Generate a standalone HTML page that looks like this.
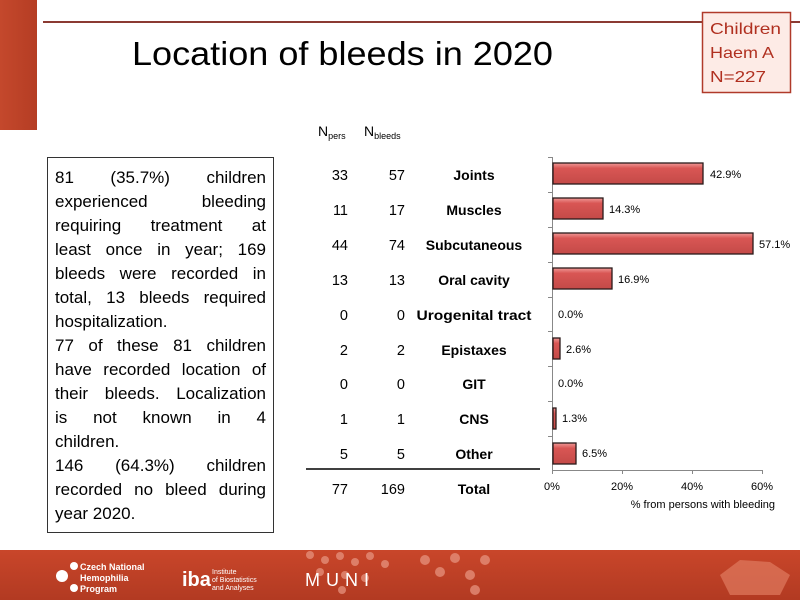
<!DOCTYPE html>
<html><head><meta charset="utf-8"><style>
html,body{margin:0;padding:0;background:#fff;}
svg{display:block;font-family:"Liberation Sans",sans-serif;}
#tb{position:absolute;left:47px;top:157px;width:211px;height:358px;border:1px solid #333;padding:8px 7px 8px 7px;font-family:"Liberation Sans",sans-serif;font-size:17px;line-height:24px;color:#000;background:#fff;}
#tb div{text-align:justify;text-align-last:justify;white-space:nowrap;height:24px;}
#tb div.l{text-align-last:left;}
</style></head><body>
<svg width="800" height="600" viewBox="0 0 800 600" xmlns="http://www.w3.org/2000/svg">
<defs>
<linearGradient id="ft" x1="0" y1="0" x2="0" y2="1"><stop offset="0" stop-color="#c9462a"/><stop offset="1" stop-color="#b23a22"/></linearGradient>
<linearGradient id="bar" x1="0" y1="0" x2="0" y2="1"><stop offset="0" stop-color="#f09a98"/><stop offset="0.25" stop-color="#d95654"/><stop offset="1" stop-color="#c44a48"/></linearGradient>
<linearGradient id="st" x1="0" y1="0" x2="1" y2="0"><stop offset="0" stop-color="#c4482c"/><stop offset="1" stop-color="#b53d24"/></linearGradient>
</defs>
<rect x="0" y="0" width="37" height="130" fill="url(#st)"/>
<line x1="43" y1="22" x2="800" y2="22" stroke="#8b3a32" stroke-width="2"/>
<text x="132" y="65" font-size="33" textLength="421" lengthAdjust="spacingAndGlyphs" fill="#000">Location of bleeds in 2020</text>
<rect x="702.5" y="12.5" width="88" height="80" fill="#fdebe6" stroke="#b03a2a" stroke-width="1.5"/>
<g fill="#b03020" font-size="16">
<text x="710" y="34" textLength="71" lengthAdjust="spacingAndGlyphs">Children</text>
<text x="710" y="58" textLength="64" lengthAdjust="spacingAndGlyphs">Haem A</text>
<text x="710" y="82" textLength="56" lengthAdjust="spacingAndGlyphs">N=227</text>
</g>
<text x="318" y="136" font-size="14">N<tspan font-size="9" dy="3">pers</tspan></text>
<text x="364" y="136" font-size="14">N<tspan font-size="9" dy="3">bleeds</tspan></text>
<g font-size="14.5" fill="#000">
<g text-anchor="end">
<text x="348" y="180">33</text><text x="405" y="180">57</text>
<text x="348" y="215">11</text><text x="405" y="215">17</text>
<text x="348" y="250">44</text><text x="405" y="250">74</text>
<text x="348" y="285">13</text><text x="405" y="285">13</text>
<text x="348" y="320">0</text><text x="405" y="320">0</text>
<text x="348" y="355">2</text><text x="405" y="355">2</text>
<text x="348" y="389">0</text><text x="405" y="389">0</text>
<text x="348" y="424">1</text><text x="405" y="424">1</text>
<text x="348" y="459">5</text><text x="405" y="459">5</text>
<text x="348" y="494">77</text><text x="405" y="494">169</text>
</g>
<g text-anchor="middle" font-weight="bold" font-size="14">
<text x="474" y="180">Joints</text>
<text x="474" y="215">Muscles</text>
<text x="474" y="250">Subcutaneous</text>
<text x="474" y="285">Oral cavity</text>
<text x="474" y="320" textLength="115" lengthAdjust="spacingAndGlyphs">Urogenital tract</text>
<text x="474" y="355">Epistaxes</text>
<text x="474" y="389">GIT</text>
<text x="474" y="424">CNS</text>
<text x="474" y="459">Other</text>
<text x="474" y="494">Total</text>
</g>
</g>
<line x1="306" y1="469" x2="540" y2="469" stroke="#000" stroke-width="1.5"/>
<g stroke="#888" stroke-width="1">
<line x1="552.5" y1="157" x2="552.5" y2="470"/>
<line x1="552" y1="470.5" x2="762" y2="470.5"/>
<line x1="548" y1="157.5" x2="552" y2="157.5"/><line x1="548" y1="192.5" x2="552" y2="192.5"/>
<line x1="548" y1="227.5" x2="552" y2="227.5"/><line x1="548" y1="262.5" x2="552" y2="262.5"/>
<line x1="548" y1="297.5" x2="552" y2="297.5"/><line x1="548" y1="331.5" x2="552" y2="331.5"/>
<line x1="548" y1="366.5" x2="552" y2="366.5"/><line x1="548" y1="401.5" x2="552" y2="401.5"/>
<line x1="548" y1="436.5" x2="552" y2="436.5"/>
<line x1="552.5" y1="470" x2="552.5" y2="474"/><line x1="622.5" y1="470" x2="622.5" y2="474"/>
<line x1="692.5" y1="470" x2="692.5" y2="474"/><line x1="762.5" y1="470" x2="762.5" y2="474"/>
</g>
<g stroke="#2a1a1a" stroke-width="1.3" fill="url(#bar)">
<rect x="553" y="163" width="150" height="21"/>
<rect x="553" y="198" width="50" height="21"/>
<rect x="553" y="233" width="200" height="21"/>
<rect x="553" y="268" width="59" height="21"/>
<rect x="553" y="338" width="7" height="21"/>
<rect x="553" y="408" width="3" height="21"/>
<rect x="553" y="443" width="23" height="21"/>
</g>
<g font-size="11" fill="#000">
<text x="710" y="178">42.9%</text>
<text x="609" y="213">14.3%</text>
<text x="759" y="248">57.1%</text>
<text x="618" y="283">16.9%</text>
<text x="558" y="318">0.0%</text>
<text x="566" y="353">2.6%</text>
<text x="558" y="387">0.0%</text>
<text x="562" y="422">1.3%</text>
<text x="582" y="457">6.5%</text>
<g text-anchor="middle">
<text x="552" y="490">0%</text><text x="622" y="490">20%</text><text x="692" y="490">40%</text><text x="762" y="490">60%</text>
</g>
<text x="775" y="508" text-anchor="end">% from persons with bleeding</text>
</g>
<rect x="0" y="550" width="800" height="50" fill="url(#ft)"/>
<g fill="#e48d78" opacity="0.8">
<circle cx="310" cy="555" r="4"/><circle cx="325" cy="560" r="4"/><circle cx="340" cy="556" r="4"/><circle cx="355" cy="562" r="4"/><circle cx="370" cy="556" r="4"/><circle cx="385" cy="564" r="4"/><circle cx="320" cy="572" r="4"/><circle cx="345" cy="575" r="4"/><circle cx="365" cy="578" r="4"/><circle cx="342" cy="590" r="4"/>
<circle cx="425" cy="560" r="5"/><circle cx="440" cy="572" r="5"/><circle cx="455" cy="558" r="5"/><circle cx="470" cy="575" r="5"/><circle cx="485" cy="560" r="5"/><circle cx="475" cy="590" r="5"/>
</g>
<path d="M720 575 L740 560 L770 562 L790 575 L780 595 L730 595 Z" fill="#e07a60" opacity="0.7"/>
<g fill="#fff">
<circle cx="62" cy="576" r="6"/><circle cx="74" cy="566" r="4"/><circle cx="74" cy="588" r="4"/>
<text x="80" y="570" font-size="9" font-weight="bold">Czech National</text>
<text x="80" y="581" font-size="9" font-weight="bold">Hemophilia</text>
<text x="80" y="592" font-size="9" font-weight="bold">Program</text>
<text x="182" y="586" font-size="20" font-weight="bold">iba</text>
<text x="212" y="574" font-size="7">Institute</text>
<text x="212" y="582" font-size="7">of Biostatistics</text>
<text x="212" y="590" font-size="7">and Analyses</text>
<text x="305" y="586" font-size="18" letter-spacing="6">MUNI</text>
</g>
</svg>
<div id="tb">
<div>81 (35.7%) children</div>
<div>experienced bleeding</div>
<div>requiring treatment at</div>
<div>least once in year; 169</div>
<div>bleeds were recorded in</div>
<div>total, 13 bleeds required</div>
<div class="l">hospitalization.</div>
<div>77 of these 81 children</div>
<div>have recorded location of</div>
<div>their bleeds. Localization</div>
<div>is not known in 4</div>
<div class="l">children.</div>
<div>146 (64.3%) children</div>
<div>recorded no bleed during</div>
<div class="l">year 2020.</div>
</div>
</body></html>
